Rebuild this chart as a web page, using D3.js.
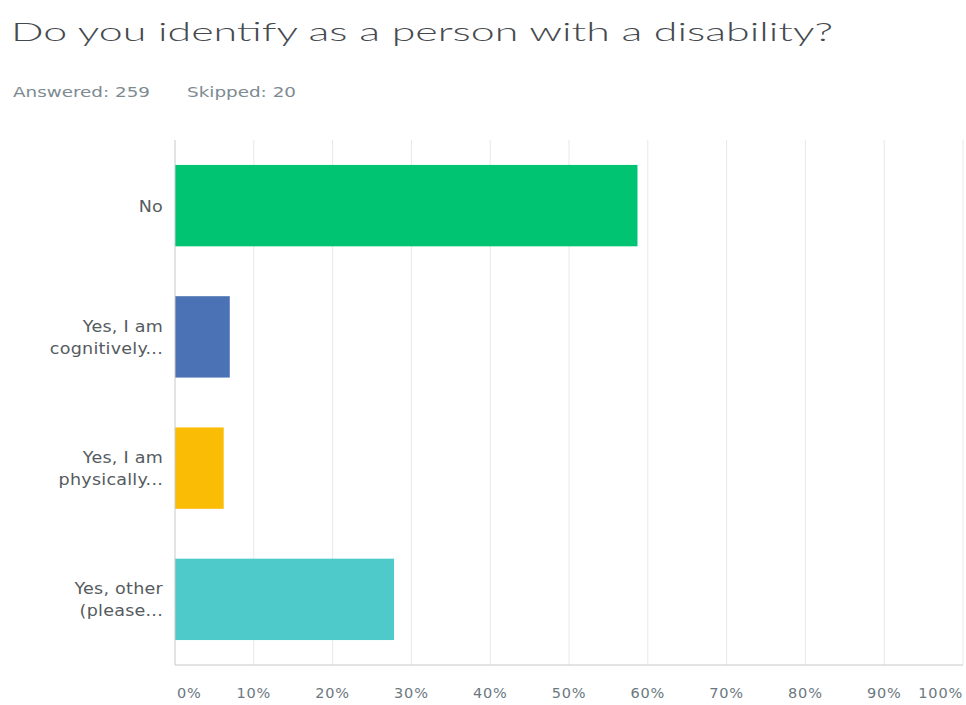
<!DOCTYPE html>
<html>
<head>
<meta charset="utf-8">
<script src="https://cdn.jsdelivr.net/npm/d3@7"></script>
<style>
  html, body { margin: 0; padding: 0; background: #fff; }
  svg { display: block; font-family: "DejaVu Sans", "Noto Sans", sans-serif; }
</style>
</head>
<body>
<svg id="chart" width="966" height="705"></svg>
<script>
// Survey question and response summary
const title = "Do you identify as a person with a disability?";
const answered = 259;
const skipped = 20;

// Answer choices (two-line truncated labels) and share of respondents (%)
const categories = ["No", "Yes, I am cognitively...", "Yes, I am physically...", "Yes, other (please..."];
const labelLines = [["No"], ["Yes, I am", "cognitively..."], ["Yes, I am", "physically..."], ["Yes, other", "(please..."]];
const percents = [58.69, 6.95, 6.18, 27.80];
const barColors = ["#00c471", "#4b72b5", "#fbbc05", "#4ecacb"];
const tickValues = [0, 10, 20, 30, 40, 50, 60, 70, 80, 90, 100];

const svg = d3.select("#chart");
const margin = { top: 140, right: 3, bottom: 40, left: 175 };
const width = 966, height = 705;

const x = d3.scaleLinear().domain([0, 100]).range([margin.left, width - margin.right]);
const y = d3.scaleBand().domain(categories).range([margin.top, height - margin.bottom]).paddingInner(0.38).paddingOuter(0.19);

// Title (wide, light face) and response counts
svg.append("text")
  .attr("x", 11).attr("y", 41)
  .attr("font-family", "Lato, Roboto, sans-serif")
  .attr("font-size", 26).attr("font-weight", 300).attr("fill", "#454a4f")
  .attr("textLength", 822).attr("lengthAdjust", "spacingAndGlyphs")
  .text(title);

svg.append("text")
  .attr("x", 13).attr("y", 97)
  .attr("font-size", 14.5).attr("fill", "#7d8a91")
  .attr("textLength", 137).attr("lengthAdjust", "spacingAndGlyphs")
  .text(`Answered: ${answered}`);
svg.append("text")
  .attr("x", 187).attr("y", 97)
  .attr("font-size", 14.5).attr("fill", "#7d8a91")
  .attr("textLength", 109).attr("lengthAdjust", "spacingAndGlyphs")
  .text(`Skipped: ${skipped}`);

// Vertical gridlines
svg.append("g")
  .selectAll("line")
  .data(tickValues.slice(1))
  .join("line")
  .attr("x1", d => x(d)).attr("x2", d => x(d))
  .attr("y1", margin.top).attr("y2", height - margin.bottom)
  .attr("stroke", "#e8e8e8").attr("stroke-width", 1);

// Bars
svg.append("g")
  .selectAll("rect")
  .data(categories)
  .join("rect")
  .attr("x", x(0))
  .attr("y", d => y(d))
  .attr("width", (d, i) => x(percents[i]) - x(0))
  .attr("height", y.bandwidth())
  .attr("fill", (d, i) => barColors[i]);

// Left and bottom axis lines
svg.append("line")
  .attr("x1", x(0)).attr("x2", x(0))
  .attr("y1", margin.top).attr("y2", height - margin.bottom)
  .attr("stroke", "#c8c8c8");
svg.append("line")
  .attr("x1", x(0)).attr("x2", x(100))
  .attr("y1", height - margin.bottom).attr("y2", height - margin.bottom)
  .attr("stroke", "#c8c8c8");

// Percent tick labels
svg.append("g")
  .selectAll("text")
  .data(tickValues)
  .join("text")
  .attr("x", d => x(d))
  .attr("y", 698)
  .attr("font-size", 14.5).attr("fill", "#6b7880")
  .attr("letter-spacing", 0.8)
  .attr("text-anchor", (d, i) => i === 0 ? "start" : (i === tickValues.length - 1 ? "end" : "middle"))
  .attr("dx", (d, i) => i === 0 ? 2 : 0)
  .text(d => d + "%");

// Category labels, right-aligned beside the bars (slightly widened face)
const labelX = 163;
const cat = svg.append("g")
  .selectAll("text")
  .data(categories)
  .join("text")
  .attr("transform", d => `translate(${labelX},${y(d) + y.bandwidth() / 2}) scale(1.17,1)`)
  .attr("font-size", 15).attr("fill", "#555b60")
  .attr("letter-spacing", 0.2)
  .attr("text-anchor", "end");

cat.each(function(d, i) {
  const lines = labelLines[i];
  const lh = 22;
  const start = -(lines.length - 1) * lh / 2;
  d3.select(this).selectAll("tspan")
    .data(lines)
    .join("tspan")
    .attr("x", 0)
    .attr("dy", (l, j) => j === 0 ? (start + 6) : lh)
    .text(l => l);
});
</script>
</body>
</html>
